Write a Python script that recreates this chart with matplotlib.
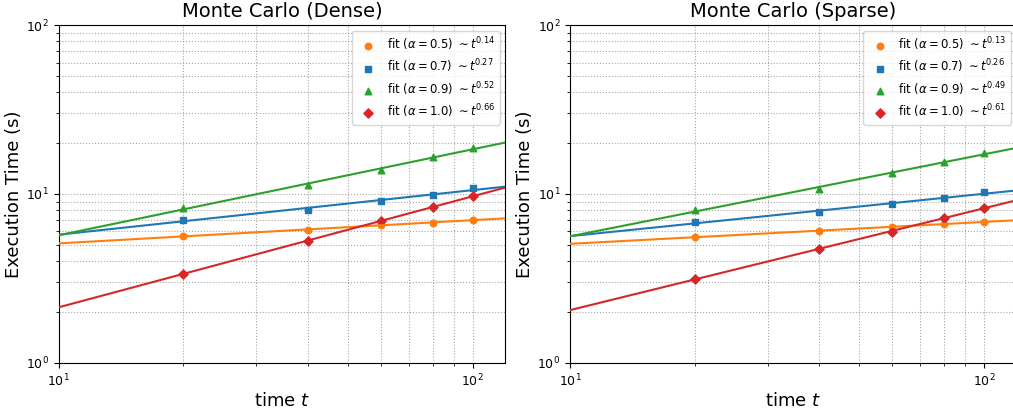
import numpy as np
import matplotlib
matplotlib.use("Agg")
import matplotlib.pyplot as plt

t = [20, 40, 60, 80, 100]
alphas = ["0.5", "0.7", "0.9", "1.0"]

dense = {
    "0.5": [5.64, 6.12, 6.53, 6.76, 7.05],
    "0.7": [7.05, 8.04, 9.09, 9.86, 10.85],
    "0.9": [8.23, 11.35, 13.9, 16.5, 18.7],
    "1.0": [3.38, 5.29, 6.89, 8.34, 9.77],
}
dense_exp = ["0.14", "0.27", "0.52", "0.66"]

sparse = {
    "0.5": [5.57, 6.02, 6.41, 6.62, 6.86],
    "0.7": [6.80, 7.82, 8.73, 9.43, 10.24],
    "0.9": [8.00, 10.75, 13.25, 15.4, 17.5],
    "1.0": [3.14, 4.71, 5.98, 7.21, 8.30],
}
sparse_exp = ["0.13", "0.26", "0.49", "0.61"]

colors = ["#ff7f0e", "#1f77b4", "#2ca02c", "#d62728"]
markers = ["o", "s", "^", "D"]

fig = plt.figure(figsize=(10.13, 4.11), dpi=100)
ax1 = fig.add_axes([0.058, 0.117, 0.441, 0.822])
ax2 = fig.add_axes([0.5627, 0.117, 0.441, 0.822])

tline = np.logspace(1, np.log10(120), 200)

for ax, data, exps, title in [(ax1, dense, dense_exp, "Monte Carlo (Dense)"),
                              (ax2, sparse, sparse_exp, "Monte Carlo (Sparse)")]:
    for a, e, c, m in zip(alphas, exps, colors, markers):
        y = np.array(data[a])
        p, lc = np.polyfit(np.log10(t), np.log10(y), 1)
        ax.scatter(t, y, color=c, marker=m, s=22, zorder=3,
                   label=r"fit ($\alpha=%s$) $\sim t^{%s}$" % (a, e))
        ax.plot(tline, 10 ** lc * tline ** p, color=c, lw=1.5, zorder=4)
    ax.set_xscale("log")
    ax.set_yscale("log")
    ax.set_xlim(10, 120)
    ax.set_ylim(1, 100)
    ax.grid(True, which="both", linestyle=":", linewidth=0.8, color="gray", alpha=0.7)
    ax.tick_params(labelsize=9)
    ax.set_title(title, fontsize=14)
    ax.set_xlabel(r"time $t$", fontsize=13, labelpad=2)
    ax.set_ylabel("Execution Time (s)", fontsize=13, labelpad=2)
    ax.legend(loc="upper right", fontsize=8.4, labelspacing=0.4, handletextpad=0.6)

fig.savefig("out.png", dpi=100)
